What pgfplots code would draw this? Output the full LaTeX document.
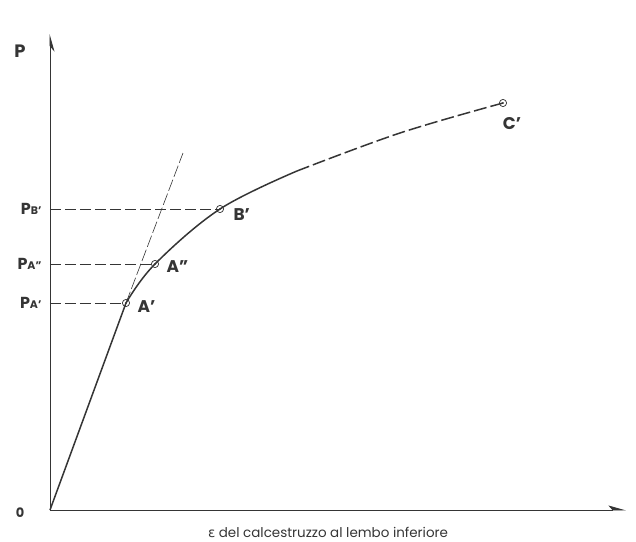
\documentclass[border=0pt]{standalone}
\usepackage{fontspec}
\setmainfont{Poppins}
\newfontfamily\greekfont{DejaVu Sans}
\usepackage{pgfplots}
\pgfplotsset{compat=1.18}
\usetikzlibrary{arrows.meta}
\definecolor{ink}{HTML}{353535}

\begin{document}
\begin{tikzpicture}
\begin{axis}[
  x=1bp, y=1bp,
  xmin=0, xmax=576, ymin=0, ymax=476,
  axis lines=left,
  axis line style={ink, line width=0.9bp},
  x axis line style={-{Stealth[harpoon,length=16bp,width=9bp,inset=4bp]}},
  y axis line style={-{Stealth[harpoon,swap,length=16bp,width=9bp]}},
  xtick=\empty, ytick=\empty,
  clip=false,
]
% reference levels of the characteristic loads
\addplot[ink, line width=0.7bp, dash pattern=on 11bp off 4bp] coordinates {(0,301) (170,301)};
\addplot[ink, line width=0.7bp, dash pattern=on 11bp off 4bp] coordinates {(0,246) (105,246)};
\addplot[ink, line width=0.7bp, dash pattern=on 11bp off 4bp] coordinates {(0,207) (76,207)};
% extension of the elastic branch
\addplot[ink, line width=0.6bp, dash pattern=on 12bp off 3bp] coordinates {(76,207) (133,357)};
% load - strain curve
\addplot[ink, line width=1.5bp] coordinates {(0,0) (76,207)};
\addplot[ink, line width=1.5bp, smooth, tension=0.6] coordinates {(76,207) (105,246) (170,301) (247,339)};
\addplot[ink, line width=1.5bp, smooth, tension=0.6, dash pattern=on 13bp off 4bp] coordinates {(247,339) (350,377) (453,407)};
% characteristic points
\addplot[ink, only marks, mark=o, mark size=3.6bp, mark options={fill=white, line width=0.7bp}] coordinates {(76,207) (105,246) (170,301) (453,407)};
\addplot[ink, only marks, mark=*, mark size=0.7bp] coordinates {(76,207) (105,246) (170,301) (453,407)};

\node[ink, font=\bfseries\fontsize{18}{18}\selectfont] at (axis cs:-30,459) {P};
\node[ink, font=\bfseries\fontsize{13}{13}\selectfont] at (axis cs:-30,-3) {0};
\node[ink, anchor=east, font=\bfseries\fontsize{16}{16}\selectfont] at (axis cs:-5,301) {P\fontsize{11}{11}\selectfont B'};
\node[ink, anchor=east, font=\bfseries\fontsize{16}{16}\selectfont] at (axis cs:-5,246) {P\fontsize{11}{11}\selectfont A''};
\node[ink, anchor=east, font=\bfseries\fontsize{16}{16}\selectfont] at (axis cs:-5,207) {P\fontsize{11}{11}\selectfont A'};
\node[ink, anchor=west, font=\bfseries\fontsize{17}{17}\selectfont] at (axis cs:84,203) {A'};
\node[ink, anchor=west, font=\bfseries\fontsize{17}{17}\selectfont] at (axis cs:113,243) {A''};
\node[ink, anchor=west, font=\bfseries\fontsize{17}{17}\selectfont] at (axis cs:180,295) {B'};
\node[ink, font=\bfseries\fontsize{17}{17}\selectfont] at (axis cs:462,386) {C'};
\node[ink, font=\fontsize{13.5}{13.5}\selectfont] at (axis cs:278,-22) {{\greekfont ε} del calcestruzzo al lembo inferiore};
\end{axis}
\pgfresetboundingbox
\path (-50bp,-32bp) rectangle (586bp,510bp);
\end{tikzpicture}
\end{document}
